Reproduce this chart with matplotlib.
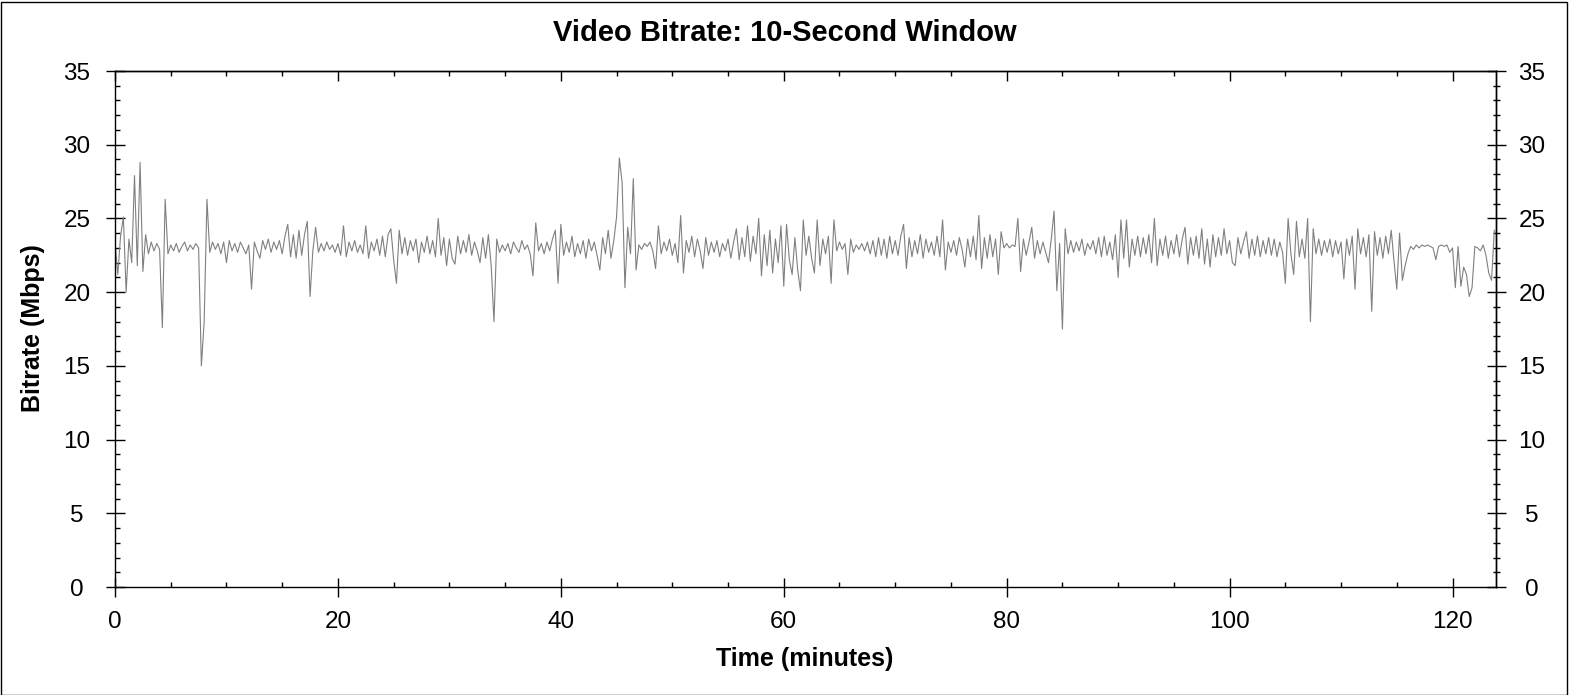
import numpy as np
import matplotlib
matplotlib.use('Agg')
import matplotlib.pyplot as plt
from matplotlib.patches import Rectangle
from matplotlib.ticker import MultipleLocator

# Video bitrate, 10 second window, one value every 0.25 minutes
step = 0.25
bitrate = [
    23.4, 21.2, 23.8, 25.1, 20.0, 23.6, 22.0, 27.9, 21.8, 28.8, 21.4, 23.9, 22.6, 23.4, 22.8, 23.3, 22.9, 17.6, 26.3, 22.6,
    23.2, 22.8, 23.3, 22.7, 23.1, 23.4, 22.8, 23.2, 22.9, 23.3, 23.0, 15.0, 18.0, 26.3, 22.7, 23.4, 22.9, 23.3, 22.6, 23.4,
    22.0, 23.5, 22.8, 23.3, 22.7, 23.4, 23.0, 22.6, 23.2, 20.2, 23.4, 22.8, 22.3, 23.5, 22.9, 23.6, 22.7, 23.4, 22.9, 23.5,
    22.6, 23.8, 24.6, 22.4, 23.9, 22.3, 24.2, 22.5, 23.9, 24.8, 19.7, 22.8, 24.4, 22.7, 23.3, 22.8, 23.4, 22.9, 23.2, 22.7,
    23.3, 22.5, 24.5, 22.4, 23.4, 22.8, 23.5, 22.7, 23.2, 22.6, 24.5, 22.3, 23.4, 22.8, 23.6, 22.5, 23.8, 22.4, 23.9, 24.3,
    22.2, 20.6, 24.2, 22.6, 23.7, 22.5, 23.5, 22.8, 23.6, 22.0, 23.4, 22.7, 23.8, 22.6, 23.5, 22.4, 25.0, 22.5, 23.7, 21.8,
    23.6, 22.3, 21.9, 23.8, 22.6, 23.5, 22.7, 23.9, 22.5, 23.4, 22.8, 22.0, 23.7, 22.3, 23.9, 21.8, 18.0, 23.6, 22.7, 23.2,
    22.8, 23.3, 22.6, 23.4, 23.0, 22.7, 23.5, 22.9, 23.2, 22.6, 21.1, 24.7, 22.8, 23.3, 22.6, 23.4, 22.8, 23.6, 24.2, 20.6,
    24.6, 22.5, 23.4, 22.7, 23.8, 22.4, 23.3, 22.6, 23.5, 22.3, 23.6, 22.8, 23.4, 22.5, 21.5, 23.7, 22.6, 24.2, 22.3, 23.5,
    25.1, 29.1, 27.4, 20.3, 24.4, 22.6, 27.7, 21.5, 23.2, 22.9, 23.3, 23.1, 23.4, 22.8, 21.6, 24.5, 22.6, 23.4, 22.8, 23.6,
    22.5, 23.3, 22.0, 25.2, 21.3, 23.5, 22.7, 23.8, 22.4, 23.6, 22.8, 21.6, 23.7, 22.5, 23.4, 22.7, 23.5, 22.4, 23.3, 22.8,
    23.6, 22.3, 23.4, 24.3, 22.2, 23.7, 22.4, 24.5, 22.1, 23.8, 22.6, 25.0, 21.1, 23.9, 21.8, 24.2, 21.3, 23.6, 22.0, 24.5,
    20.4, 24.6, 22.2, 21.2, 23.7, 21.5, 20.1, 24.9, 22.5, 23.8, 22.3, 21.3, 24.9, 21.8, 23.6, 22.6, 23.8, 20.6, 24.9, 22.8,
    23.4, 22.9, 23.3, 21.2, 23.6, 22.7, 23.2, 22.9, 23.3, 22.8, 23.4, 22.6, 23.5, 22.4, 23.7, 22.5, 23.6, 22.3, 23.8, 22.6,
    23.5, 22.5, 23.8, 24.6, 21.6, 23.7, 22.4, 23.5, 22.6, 23.9, 22.3, 23.6, 22.7, 23.4, 22.5, 23.8, 22.4, 24.9, 21.5, 23.4,
    22.7, 23.5, 22.5, 23.7, 22.9, 21.7, 23.6, 22.4, 23.8, 22.2, 25.2, 21.6, 23.7, 22.3, 23.9, 22.4, 23.6, 21.2, 24.1, 23.0,
    23.3, 23.0, 23.2, 23.1, 25.0, 21.4, 23.6, 22.5, 23.4, 24.4, 22.3, 23.5, 22.6, 23.4, 22.7, 22.0, 23.6, 25.5, 20.1, 23.3,
    17.5, 24.3, 22.6, 23.5, 22.7, 23.4, 22.8, 23.6, 22.5, 23.3, 22.9, 23.5, 22.6, 23.7, 22.4, 23.8, 22.5, 23.4, 22.2, 23.9,
    21.0, 24.9, 22.3, 24.9, 21.7, 23.6, 22.5, 23.8, 22.4, 23.7, 22.6, 23.9, 22.0, 25.0, 21.8, 23.6, 22.5, 23.8, 22.3, 23.5,
    22.6, 23.9, 22.4, 23.6, 24.4, 21.9, 23.7, 22.5, 23.8, 22.3, 24.3, 21.9, 23.6, 21.7, 23.9, 22.4, 23.7, 22.5, 24.3, 22.6,
    23.5, 22.0, 21.8, 23.7, 22.6, 23.4, 24.1, 22.3, 23.6, 22.5, 23.8, 22.4, 23.5, 22.6, 23.7, 22.5, 23.6, 22.4, 23.4, 22.7,
    20.6, 25.0, 22.6, 21.2, 24.8, 22.4, 23.6, 22.3, 25.0, 18.0, 24.3, 22.6, 23.6, 22.5, 23.5, 22.7, 23.6, 22.4, 23.5, 22.6,
    23.4, 20.9, 23.6, 22.5, 23.8, 20.2, 24.3, 22.6, 23.7, 22.4, 23.9, 18.7, 24.1, 22.5, 23.7, 22.3, 23.8, 22.6, 24.2, 22.1,
    20.2, 24.0, 20.8, 21.8, 22.6, 23.1, 22.9, 23.2, 23.0, 23.2, 23.1, 23.2, 23.1, 23.0, 22.2, 23.1, 23.2, 23.1, 23.2, 22.7,
    23.0, 20.3, 23.1, 20.4, 21.7, 21.2, 19.7, 20.3, 23.1, 23.0, 22.8, 23.2, 22.5, 21.3, 20.8, 24.2,
]
minutes = np.arange(len(bitrate)) * step

x_max = 123.9
y_ticks = [0, 5, 10, 15, 20, 25, 30, 35]
x_ticks = [0, 20, 40, 60, 80, 100, 120]

px = 72 / 100  # one pixel in points
font = 'Liberation Sans'

fig = plt.figure(figsize=(15.7, 6.95), dpi=100)
ax = fig.add_axes([115/1570, 108/695, 1381/1570, 516/695])

ax.plot(minutes, bitrate, color='#808080', linewidth=0.8)

ax.set_xlim(0, x_max)
ax.set_ylim(0, 35)
ax.set_xticks(x_ticks)
ax.set_yticks(y_ticks)
ax.xaxis.set_minor_locator(MultipleLocator(5))
ax.yaxis.set_minor_locator(MultipleLocator(1))

for s in ax.spines.values():
    s.set_linewidth(1.4 * px)

# bottom and left
ax.tick_params(which='major', direction='inout', length=19*px, width=1.4*px, labelsize=17.5)
ax.tick_params(which='minor', direction='in', length=5*px, width=1.4*px)
ax.tick_params(axis='y', which='major', pad=28.5*px)
ax.tick_params(axis='x', which='major', pad=15*px)
for t in ax.yaxis.get_major_ticks():
    t.label1.set_horizontalalignment('center')
for lab in ax.get_xticklabels() + ax.get_yticklabels():
    lab.set_family(font)

# top: ticks only, pointing in
top = ax.secondary_xaxis('top')
top.set_xticks(x_ticks)
top.xaxis.set_minor_locator(MultipleLocator(5))
top.tick_params(which='major', direction='in', length=10*px, width=1.4*px, labeltop=False)
top.tick_params(which='minor', direction='in', length=5*px, width=1.4*px)
top.spines['top'].set_linewidth(1.4 * px)

# right: ticks across the axis, with labels
right = ax.secondary_yaxis('right')
right.set_yticks(y_ticks)
right.yaxis.set_minor_locator(MultipleLocator(1))
right.tick_params(which='major', direction='inout', length=19*px, width=1.4*px,
                  labelsize=17.5, pad=26.5*px)
right.tick_params(which='minor', direction='inout', length=7*px, width=1.4*px)
right.spines['right'].set_linewidth(1.4 * px)
for t in right.yaxis.get_major_ticks():
    t.label2.set_horizontalalignment('center')
    t.label2.set_family(font)

fig.text(0.5, 1 - 33/695, 'Video Bitrate: 10-Second Window', ha='center', va='center',
         fontsize=21, fontweight='bold', family=font)
fig.text(805/1570, 1 - 659/695, 'Time (minutes)', ha='center', va='center',
         fontsize=18, fontweight='bold', family=font)
fig.text(33/1570, 1 - 328/695, 'Bitrate (Mbps)', ha='center', va='center', rotation=90,
         fontsize=18, fontweight='bold', family=font)

fig.add_artist(Rectangle((0.5/1570, 0.5/695), 1566/1570, 693/695, transform=fig.transFigure,
                         fill=False, edgecolor='black', linewidth=1))

fig.savefig('out.png', dpi=100)
